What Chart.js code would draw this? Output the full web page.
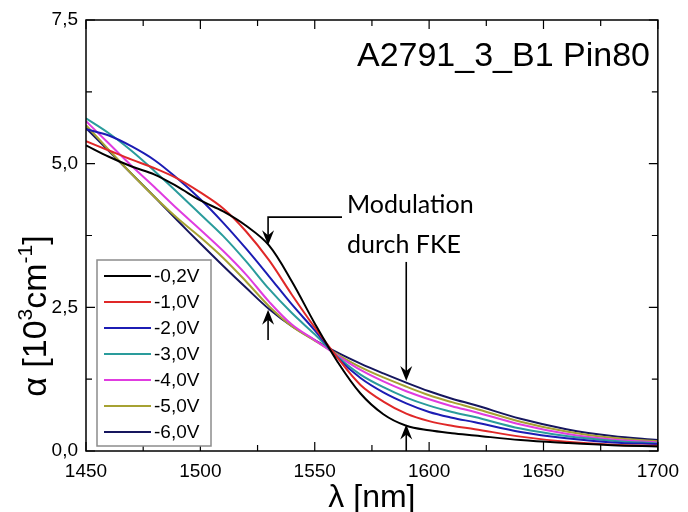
<!DOCTYPE html>
<html>
<head>
<meta charset="utf-8">
<script src="https://cdn.jsdelivr.net/npm/chart.js@4.4.0/dist/chart.umd.min.js"></script>
<style>
html,body{margin:0;padding:0;background:#fff;}
</style>
</head>
<body>
<canvas id="myChart" width="688" height="512"></canvas>
<script>
// wellenlaenge in nm
var wavelengths = [1450,1460,1470,1480,1490,1500,1510,1520,1530,1540,1550,1560,1570,1580,1590,1600,1610,1620,1640,1660,1680,1700];
// absorption alpha in 10^3 cm^-1, eine Kurve pro Spannung
var alpha02 = [5.32,5.12,4.95,4.81,4.60,4.36,4.17,3.92,3.58,2.95,2.22,1.55,1.00,0.64,0.44,0.36,0.31,0.27,0.19,0.14,0.10,0.08];
var alpha10 = [5.39,5.23,5.07,4.92,4.74,4.50,4.22,3.82,3.32,2.72,2.15,1.62,1.15,0.86,0.65,0.52,0.44,0.38,0.25,0.16,0.11,0.09];
var alpha20 = [5.60,5.49,5.30,5.06,4.74,4.38,3.97,3.52,3.04,2.55,2.10,1.62,1.27,1.02,0.83,0.68,0.58,0.50,0.33,0.22,0.15,0.12];
var alpha30 = [5.79,5.53,5.22,4.87,4.50,4.12,3.74,3.30,2.82,2.40,2.03,1.64,1.33,1.11,0.93,0.79,0.68,0.59,0.39,0.26,0.18,0.13];
var alpha40 = [5.74,5.35,4.96,4.59,4.21,3.85,3.48,3.07,2.60,2.20,1.93,1.66,1.41,1.21,1.04,0.90,0.78,0.68,0.46,0.30,0.20,0.15];
var alpha50 = [5.67,5.24,4.82,4.42,4.05,3.72,3.36,2.95,2.52,2.17,1.92,1.68,1.46,1.28,1.12,0.97,0.85,0.74,0.51,0.34,0.23,0.17];
var alpha60 = [5.62,5.22,4.82,4.42,4.01,3.61,3.22,2.84,2.47,2.17,1.93,1.71,1.52,1.35,1.19,1.04,0.91,0.80,0.56,0.38,0.26,0.19];

var voltages = ['-0,2V','-1,0V','-2,0V','-3,0V','-4,0V','-5,0V','-6,0V'];
var colors = ['#000000','#e02828','#1c1cb4','#2a9c9c','#e03ce0','#a6a232','#16165e'];
var xTicks = [1450,1500,1550,1600,1650,1700];
var yTicks = [0,2.5,5,7.5];

var allSeries = [alpha02, alpha10, alpha20, alpha30, alpha40, alpha50, alpha60];

function pts(arr){
  return wavelengths.map(function(w,i){ return {x:w, y:arr[i]}; });
}

var datasets = allSeries.map(function(s,i){
  return {
    label: voltages[i],
    data: pts(s),
    borderColor: colors[i],
    borderWidth: 2,
    pointRadius: 0,
    fill: false,
    tension: 0.35
  };
});

function arrowHead(ctx, x, y, dir){
  // dir: 1 = nach unten zeigend, -1 = nach oben
  ctx.beginPath();
  ctx.moveTo(x, y);
  ctx.lineTo(x-6, y-15*dir);
  ctx.lineTo(x, y-10*dir);
  ctx.lineTo(x+6, y-15*dir);
  ctx.closePath();
  ctx.fill();
}

var extras = {
  id: 'extras',
  afterDraw: function(c){
    var ctx = c.ctx, a = c.chartArea, xs = c.scales.x, ys = c.scales.y;
    ctx.save();
    ctx.strokeStyle = '#000';
    ctx.fillStyle = '#000';
    ctx.lineWidth = 1.5;
    ctx.strokeRect(a.left, a.top, a.right-a.left, a.bottom-a.top);

    // Ticks nach innen
    ctx.lineWidth = 1.2;
    ctx.beginPath();
    for (var v = 1450; v <= 1700; v += 25){
      var px = xs.getPixelForValue(v);
      var len = (v % 50 === 0) ? 9 : 6;
      ctx.moveTo(px, a.bottom); ctx.lineTo(px, a.bottom-len);
      ctx.moveTo(px, a.top); ctx.lineTo(px, a.top+len);
    }
    for (var k = 0; k <= 6; k++){
      var py = ys.getPixelForValue(k*1.25);
      var l2 = (k % 2 === 0) ? 9 : 6;
      ctx.moveTo(a.left, py); ctx.lineTo(a.left+l2, py);
      ctx.moveTo(a.right, py); ctx.lineTo(a.right-l2, py);
    }
    ctx.stroke();

    // Probenname
    ctx.font = '34px "Liberation Sans", Arial, sans-serif';
    ctx.textAlign = 'right';
    ctx.textBaseline = 'alphabetic';
    ctx.fillText('A2791_3_B1 Pin80', 650, 66);

    // Legende
    var lx = 97, ly = 260, lw = 114, lh = 186;
    ctx.fillStyle = '#fff';
    ctx.fillRect(lx, ly, lw, lh);
    ctx.strokeStyle = '#8c8c8c';
    ctx.lineWidth = 1.5;
    ctx.strokeRect(lx, ly, lw, lh);
    ctx.font = '19px "Liberation Sans", Arial, sans-serif';
    ctx.textAlign = 'left';
    ctx.textBaseline = 'middle';
    for (var i = 0; i < voltages.length; i++){
      var ry = 276 + i*26;
      ctx.strokeStyle = colors[i];
      ctx.lineWidth = 2;
      ctx.beginPath(); ctx.moveTo(104, ry); ctx.lineTo(151, ry); ctx.stroke();
      ctx.fillStyle = '#000';
      ctx.fillText(voltages[i], 154, ry+1);
    }

    // Pfeile "Modulation durch FKE"
    ctx.strokeStyle = '#000';
    ctx.fillStyle = '#000';
    ctx.lineWidth = 1.6;
    var xl = xs.getPixelForValue(1529.6), xr = xs.getPixelForValue(1590);
    var yh = ys.getPixelForValue(4.07);
    ctx.beginPath();
    ctx.moveTo(342, yh); ctx.lineTo(xl, yh); ctx.lineTo(xl, ys.getPixelForValue(3.62)); ctx.stroke();
    arrowHead(ctx, xl, ys.getPixelForValue(3.58), 1);
    ctx.beginPath();
    ctx.moveTo(xl, ys.getPixelForValue(1.93)); ctx.lineTo(xl, ys.getPixelForValue(2.40)); ctx.stroke();
    arrowHead(ctx, xl, ys.getPixelForValue(2.46), -1);
    ctx.beginPath();
    ctx.moveTo(xr, ys.getPixelForValue(3.29)); ctx.lineTo(xr, ys.getPixelForValue(1.28)); ctx.stroke();
    arrowHead(ctx, xr, ys.getPixelForValue(1.22), 1);
    ctx.beginPath();
    ctx.moveTo(xr, a.bottom); ctx.lineTo(xr, ys.getPixelForValue(0.40)); ctx.stroke();
    arrowHead(ctx, xr, ys.getPixelForValue(0.46), -1);

    ctx.font = '25px Lato, "Open Sans", sans-serif';
    ctx.textAlign = 'left';
    ctx.textBaseline = 'alphabetic';
    ctx.fillText('Modulation', 347, 213);
    ctx.fillText('durch FKE', 347, 253);

    // Achsentitel
    ctx.font = '32px "Liberation Sans", Arial, sans-serif';
    ctx.textAlign = 'center';
    ctx.fillText('\u03bb [nm]', (a.left+a.right)/2, 507);

    ctx.translate(46, 316);
    ctx.rotate(-Math.PI/2);
    var big = '34px "Liberation Sans", Arial, sans-serif';
    var small = '21px "Liberation Sans", Arial, sans-serif';
    var parts = [['\u03b1 [10', big, 0], ['3', small, -14], ['cm', big, 0], ['-1', small, -14], [']', big, 0]];
    var total = 0;
    parts.forEach(function(p){ ctx.font = p[1]; total += ctx.measureText(p[0]).width; });
    var cx = -total/2;
    ctx.textAlign = 'left';
    parts.forEach(function(p){
      ctx.font = p[1];
      ctx.fillText(p[0], cx, p[2]);
      cx += ctx.measureText(p[0]).width;
    });
    ctx.restore();
  }
};

var ctx = document.getElementById('myChart').getContext('2d');
var chart = new Chart(ctx, {
  type: 'line',
  data: { datasets: datasets },
  options: {
    responsive: false,
    animation: false,
    layout: { padding: { top: 20, right: 18, left: 0, bottom: 0 } },
    plugins: { legend: { display: false }, tooltip: { enabled: false } },
    scales: {
      x: {
        type: 'linear', min: 1450, max: 1700,
        afterFit: function(s){ s.height = 61; },
        afterBuildTicks: function(s){ s.ticks = xTicks.map(function(v){ return {value:v}; }); },
        grid: { display: false, drawTicks: false },
        border: { display: false },
        ticks: {
          color: '#000', padding: 9, maxRotation: 0,
          font: { family: '"Liberation Sans", Arial, sans-serif', size: 19 },
          callback: function(v){ return String(v); }
        }
      },
      y: {
        type: 'linear', min: 0, max: 7.5,
        afterFit: function(s){ s.width = 86; },
        afterBuildTicks: function(s){ s.ticks = yTicks.map(function(v){ return {value:v}; }); },
        grid: { display: false, drawTicks: false },
        border: { display: false },
        ticks: {
          color: '#000', padding: 8,
          font: { family: '"Liberation Sans", Arial, sans-serif', size: 19 },
          callback: function(v){ return v.toFixed(1).replace('.', ','); }
        }
      }
    }
  },
  plugins: [extras]
});
</script>
</body>
</html>
